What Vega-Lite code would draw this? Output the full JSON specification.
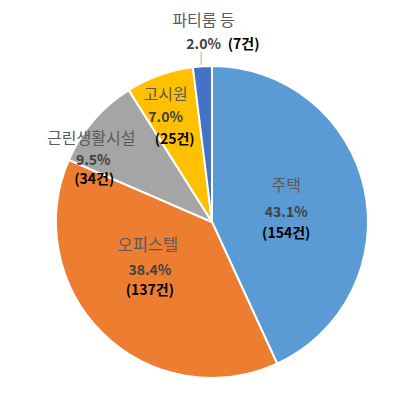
{
  "$schema": "https://vega.github.io/schema/vega-lite/v6.json",
  "width": 400,
  "height": 360,
  "autosize": {"type": "none"},
  "padding": {"left": 12, "top": 42, "right": 6, "bottom": 0},
  "background": "white",
  "config": {"view": {"stroke": null}},
  "data": {
    "values": [
      {"category": "주택", "count": 154, "pct": "43.1%", "cnt": "(154건)", "ord": 1},
      {"category": "오피스텔", "count": 137, "pct": "38.4%", "cnt": "(137건)", "ord": 2},
      {"category": "근린생활시설", "count": 34, "pct": "9.5%", "cnt": "(34건)", "ord": 3},
      {"category": "고시원", "count": 25, "pct": "7.0%", "cnt": "(25건)", "ord": 4},
      {"category": "파티룸 등", "count": 7, "pct": "2.0%", "cnt": "(7건)", "ord": 5}
    ]
  },
  "encoding": {
    "theta": {"field": "count", "type": "quantitative", "stack": true},
    "order": {"field": "ord", "type": "quantitative"}
  },
  "layer": [
    {
      "mark": {"type": "arc", "radius": 156, "stroke": "white", "strokeWidth": 2},
      "encoding": {
        "color": {"field": "category", "type": "nominal", "legend": null,
          "scale": {"domain": ["주택", "오피스텔", "근린생활시설", "고시원", "파티룸 등"],
                    "range": ["#5B9BD5", "#ED7D31", "#A5A5A5", "#FFC000", "#4472C4"]}}
      }
    },
    {
      "mark": {"type": "text", "radius": 76, "dy": -20, "font": "Noto Sans CJK KR", "fontSize": 16, "color": "#595959", "baseline": "middle", "align": "center"},
      "encoding": {"text": {"condition": {"test": "datum.category === '주택'", "field": "category"}, "value": ""}}
    },
    {
      "mark": {"type": "text", "radius": 76, "dy": 7, "font": "Noto Sans CJK KR", "fontSize": 14, "fontWeight": "bold", "color": "#404040", "baseline": "middle", "align": "center"},
      "encoding": {"text": {"condition": {"test": "datum.category === '주택'", "field": "pct"}, "value": ""}}
    },
    {
      "mark": {"type": "text", "radius": 76, "dy": 28, "font": "Noto Sans CJK KR", "fontSize": 14, "fontWeight": "bold", "color": "#000000", "baseline": "middle", "align": "center"},
      "encoding": {"text": {"condition": {"test": "datum.category === '주택'", "field": "cnt"}, "value": ""}}
    },
    {
      "mark": {"type": "text", "radius": 76, "dx": -11, "dy": -30, "font": "Noto Sans CJK KR", "fontSize": 16.5, "color": "#595959", "baseline": "middle", "align": "center"},
      "encoding": {"text": {"condition": {"test": "datum.category === '오피스텔'", "field": "category"}, "value": ""}}
    },
    {
      "mark": {"type": "text", "radius": 76, "dx": -9, "dy": -5, "font": "Noto Sans CJK KR", "fontSize": 14, "fontWeight": "bold", "color": "#404040", "baseline": "middle", "align": "center"},
      "encoding": {"text": {"condition": {"test": "datum.category === '오피스텔'", "field": "pct"}, "value": ""}}
    },
    {
      "mark": {"type": "text", "radius": 76, "dx": -9, "dy": 15, "font": "Noto Sans CJK KR", "fontSize": 14, "fontWeight": "bold", "color": "#000000", "baseline": "middle", "align": "center"},
      "encoding": {"text": {"condition": {"test": "datum.category === '오피스텔'", "field": "cnt"}, "value": ""}}
    },
    {
      "mark": {"type": "text", "radius": 130, "dx": -22, "dy": 2, "font": "Noto Sans CJK KR", "fontSize": 16, "color": "#595959", "baseline": "middle", "align": "center"},
      "encoding": {"text": {"condition": {"test": "datum.category === '근린생활시설'", "field": "category"}, "value": ""}}
    },
    {
      "mark": {"type": "text", "radius": 130, "dx": -20, "dy": 24, "font": "Noto Sans CJK KR", "fontSize": 14, "fontWeight": "bold", "color": "#404040", "baseline": "middle", "align": "center"},
      "encoding": {"text": {"condition": {"test": "datum.category === '근린생활시설'", "field": "pct"}, "value": ""}}
    },
    {
      "mark": {"type": "text", "radius": 130, "dx": -19, "dy": 43, "font": "Noto Sans CJK KR", "fontSize": 14, "fontWeight": "bold", "color": "#000000", "baseline": "middle", "align": "center"},
      "encoding": {"text": {"condition": {"test": "datum.category === '근린생활시설'", "field": "cnt"}, "value": ""}}
    },
    {
      "mark": {"type": "text", "radius": 114, "dx": -8, "dy": -20, "font": "Noto Sans CJK KR", "fontSize": 16, "color": "#595959", "baseline": "middle", "align": "center"},
      "encoding": {"text": {"condition": {"test": "datum.category === '고시원'", "field": "category"}, "value": ""}}
    },
    {
      "mark": {"type": "text", "radius": 114, "dx": -8, "dy": 3, "font": "Noto Sans CJK KR", "fontSize": 14, "fontWeight": "bold", "color": "#404040", "baseline": "middle", "align": "center"},
      "encoding": {"text": {"condition": {"test": "datum.category === '고시원'", "field": "pct"}, "value": ""}}
    },
    {
      "mark": {"type": "text", "radius": 114, "dx": 1, "dy": 25, "font": "Noto Sans CJK KR", "fontSize": 14, "fontWeight": "bold", "color": "#000000", "baseline": "middle", "align": "center"},
      "encoding": {"text": {"condition": {"test": "datum.category === '고시원'", "field": "cnt"}, "value": ""}}
    },
    {
      "mark": {"type": "text", "radius": 185, "dx": 3, "dy": -16, "font": "Noto Sans CJK KR", "fontSize": 16, "color": "#595959", "baseline": "middle", "align": "center"},
      "encoding": {"text": {"condition": {"test": "datum.category === '파티룸 등'", "field": "category"}, "value": ""}}
    },
    {
      "mark": {"type": "text", "radius": 185, "dx": 3, "dy": 8, "font": "Noto Sans CJK KR", "fontSize": 14, "fontWeight": "bold", "color": "#404040", "baseline": "middle", "align": "center"},
      "encoding": {"text": {"condition": {"test": "datum.category === '파티룸 등'", "field": "pct"}, "value": ""}}
    },
    {
      "mark": {"type": "text", "radius": 185, "dx": 43, "dy": 8, "font": "Noto Sans CJK KR", "fontSize": 14, "fontWeight": "bold", "color": "#000000", "baseline": "middle", "align": "center"},
      "encoding": {"text": {"condition": {"test": "datum.category === '파티룸 등'", "field": "cnt"}, "value": ""}}
    },
    {
      "mark": {"type": "text", "radius": 161, "dx": -1, "dy": -2, "font": "DejaVu Sans", "fontSize": 11, "color": "#A6A6A6", "baseline": "middle", "align": "center"},
      "encoding": {"text": {"condition": {"test": "datum.category === '파티룸 등'", "value": "│"}, "value": ""}}
    }
  ]
}
